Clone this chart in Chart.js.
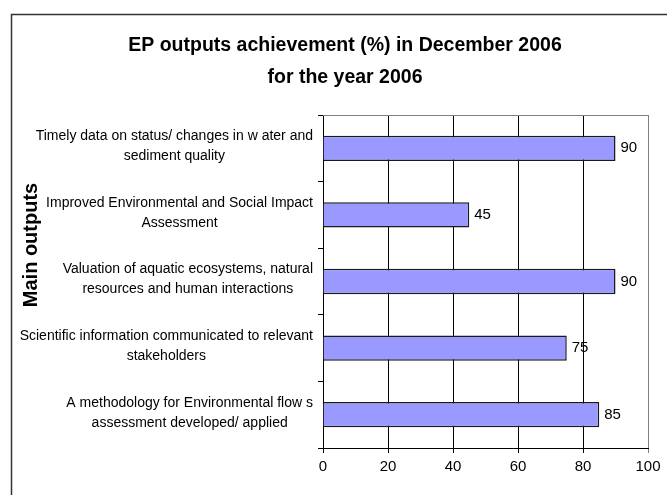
<!DOCTYPE html>
<html lang="en">
  <head>
    <meta charset="UTF-8" />
    <title>EP outputs achievement</title>
    <script src="https://cdn.jsdelivr.net/npm/chart.js"></script>
    <style>
      body { margin: 0; background: #fff; }
    </style>
  </head>
  <body>
    <canvas id="myChart" width="667" height="495"></canvas>

    <script>
      // data
      const titleLines = ["EP outputs achievement (%) in December 2006", "for the year 2006"];
      const axisTitle = "Main outputs";
      const categories = [
        ["Timely data on status/ changes in w ater and", "sediment quality"],
        ["Improved Environmental and Social Impact", "Assessment"],
        ["Valuation of aquatic ecosystems, natural", "resources and human interactions"],
        ["Scientific information communicated to relevant", "stakeholders"],
        ["A methodology for Environmental flow s", "assessment developed/ applied"],
      ];
      const achievement = [90, 45, 90, 75, 85];
      const xMin = 0;
      const xMax = 100;
      const xStep = 20;

      const FONT = '"Liberation Sans", Arial, sans-serif';

      // frame, titles, category labels, value labels
      const decor = {
        id: "decor",
        beforeDraw(chart) {
          const ctx = chart.ctx;
          ctx.save();
          ctx.fillStyle = "#fff";
          ctx.fillRect(0, 0, chart.width, chart.height);
          ctx.strokeStyle = "#333";
          ctx.lineWidth = 1.5;
          ctx.strokeRect(11.5, 14.5, 1000, 1000);
          ctx.restore();
        },
        afterDraw(chart) {
          const ctx = chart.ctx;
          const area = chart.chartArea;
          const ys = chart.scales.y;
          ctx.save();

          // top border of plot area
          ctx.strokeStyle = "#808080";
          ctx.lineWidth = 1;
          ctx.beginPath();
          ctx.moveTo(area.left, area.top + 0.5);
          ctx.lineTo(area.right, area.top + 0.5);
          ctx.stroke();

          // chart title
          ctx.fillStyle = "#000";
          ctx.font = "bold 19.5px " + FONT;
          ctx.textAlign = "center";
          ctx.textBaseline = "middle";
          ctx.fillText(titleLines[0], 345, 46);
          ctx.fillText(titleLines[1], 345, 78);

          // y axis title
          ctx.font = "bold 20px " + FONT;
          ctx.save();
          ctx.translate(31, 245);
          ctx.rotate(-Math.PI / 2);
          ctx.fillText(axisTitle, 0, 0);
          ctx.restore();

          // category labels: block right aligned, lines centred
          ctx.font = "14px " + FONT;
          categories.forEach((lines, i) => {
            const cy = ys.getPixelForValue(i) - 2;
            const w = Math.max(...lines.map((l) => ctx.measureText(l).width));
            const cx = ys.right - 10 - w / 2;
            const lh = 20;
            lines.forEach((l, j) => {
              ctx.fillText(l, cx, cy - ((lines.length - 1) * lh) / 2 + j * lh);
            });
          });

          // value labels
          ctx.font = "15px " + FONT;
          ctx.textAlign = "left";
          chart.getDatasetMeta(0).data.forEach((bar, i) => {
            ctx.fillText(String(achievement[i]), bar.x + 5, bar.y);
          });
          ctx.restore();
        },
      };

      const ctx = document.getElementById("myChart").getContext("2d");
      new Chart(ctx, {
        type: "bar",
        data: {
          labels: categories,
          datasets: [
            {
              data: achievement,
              backgroundColor: "#9999FF",
              borderColor: "#1a1a1a",
              borderWidth: 1.5,
              barPercentage: 0.38,
              categoryPercentage: 1,
            },
          ],
        },
        options: {
          indexAxis: "y",
          responsive: false,
          animation: false,
          layout: { padding: { left: 0, right: 19, top: 115, bottom: 14 } },
          plugins: {
            legend: { display: false },
            title: { display: false },
            tooltip: { enabled: false },
          },
          scales: {
            x: {
              min: xMin,
              max: xMax,
              ticks: {
                stepSize: xStep,
                color: "#000",
                font: { family: FONT, size: 15 },
                padding: 5,
              },
              grid: {
                color: (c) => (c.tick && c.tick.value === xMax ? "#808080" : "#000"),
                lineWidth: 1,
                tickLength: 5,
              },
              border: { color: "#000", width: 1 },
            },
            y: {
              ticks: { display: false },
              grid: {
                offset: true,
                drawOnChartArea: false,
                color: "#000",
                tickLength: 5,
              },
              border: { color: "#000", width: 1 },
              afterFit(scale) {
                scale.width = 323;
              },
            },
          },
        },
        plugins: [decor],
      });
    </script>
  </body>
</html>
